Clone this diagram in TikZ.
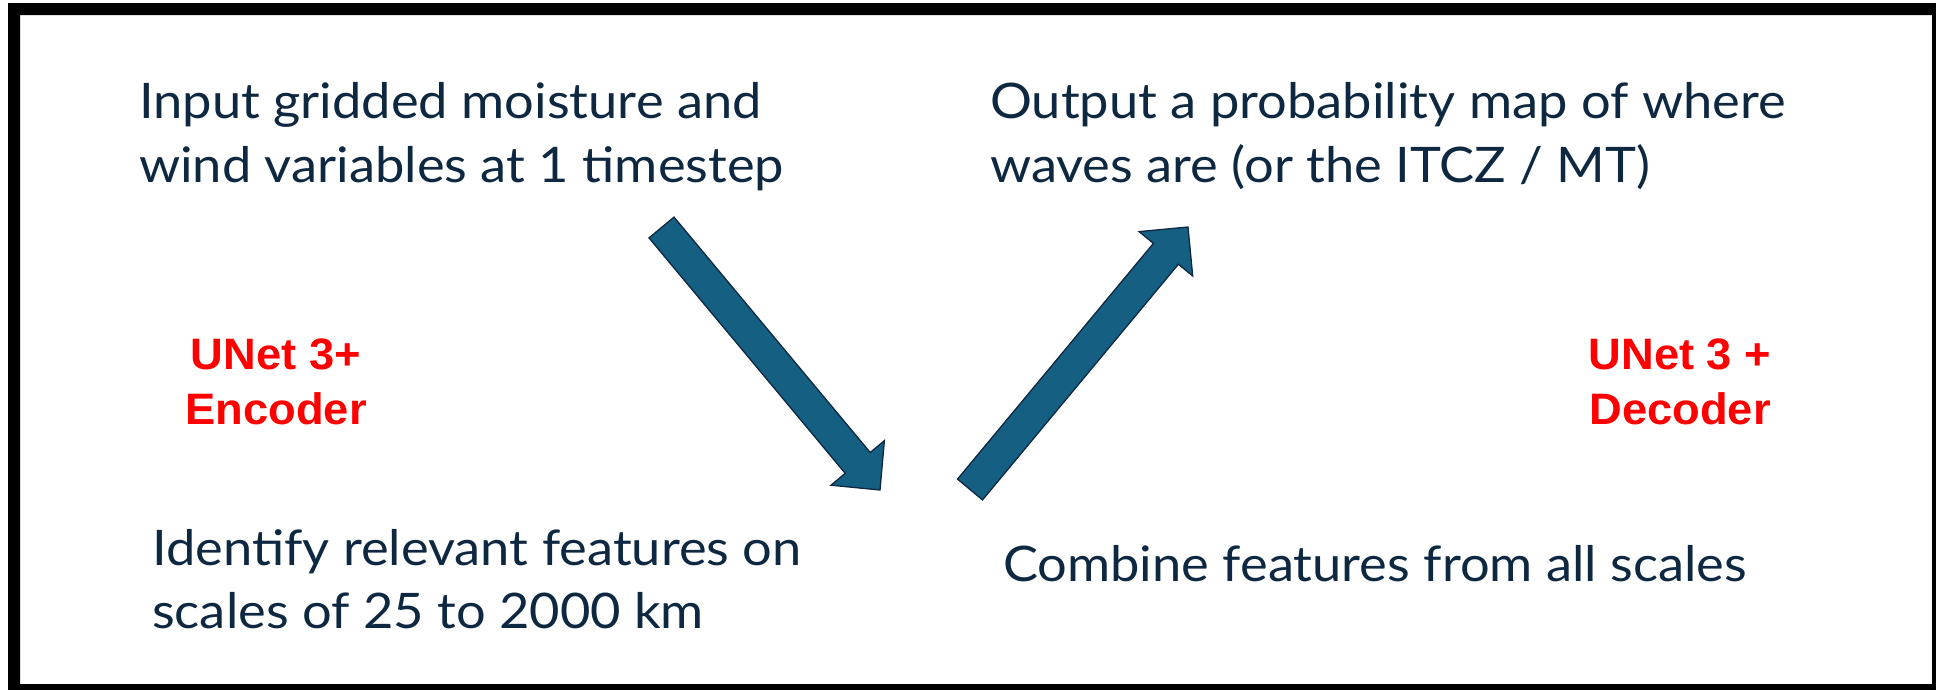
\documentclass[tikz,border=0pt]{standalone}
\usepackage{fontspec}
\newfontfamily\bodyfont[FakeStretch=1.07]{Lato}
\newfontfamily\labelfont[FakeStretch=1.03]{Liberation Sans}
\definecolor{navy}{HTML}{0E2841}
\definecolor{arrowblue}{HTML}{156082}
\definecolor{labred}{HTML}{FF0000}
\tikzset{
  body/.style={anchor=base west, inner sep=0pt, text=navy, font=\bodyfont\fontsize{49}{63}\selectfont},
  redlab/.style={anchor=base, inner sep=0pt, text=labred, font=\labelfont\bfseries\fontsize{44}{55}\selectfont},
  blockarrow/.style={fill=arrowblue, draw=navy, line width=1.3pt, line join=miter}
}
\begin{document}
\begin{tikzpicture}[x=1pt,y=-1pt]
\useasboundingbox (0,0) rectangle (1936,689);
\clip (0,0) rectangle (1936,689);
% frame
\fill[black, even odd rule] (8,3) rectangle (1945,700) (20,15) rectangle (1932,684);
% texts
\node[body] (in1) at (139,118) {Input gridded moisture and};
\node[body] (in2) at (139,182) {wind variables at 1 timestep};
\node[body] (out1) at (990,118) {Output a probability map of where};
\node[body] (out2) at (990,182) {waves are (or the ITCZ / MT)};
\node[body] (id1) at (152,565) {Identify relevant features on};
\node[body] (id2) at (152,628) {scales of 25 to 2000 km};
\node[body] (comb) at (1003,581) {Combine features from all scales};
\node[redlab] (enc1) at (276,369) {UNet 3+};
\node[redlab] (enc2) at (276,424) {Encoder};
\node[redlab] (dec1) at (1680,369) {UNet 3 +};
\node[redlab] (dec2) at (1680,424) {Decoder};
% block arrow down
\coordinate (a1tl) at (649,237.9);
\coordinate (a1tr) at (674,217.1);
\coordinate (a1sr) at (870.2,452.5);
\coordinate (a1hr) at (884.4,440.6);
\coordinate (a1tip) at (880,490);
\coordinate (a1hl) at (831,485.2);
\coordinate (a1sl) at (845.2,473.3);
\draw[blockarrow] (a1tl) -- (a1tr) -- (a1sr) -- (a1hr) -- (a1tip) -- (a1hl) -- (a1sl) -- cycle;
% block arrow up
\coordinate (a2tl) at (957.5,479.1);
\coordinate (a2tr) at (982.5,499.9);
\coordinate (a2sr) at (1178.4,264.2);
\coordinate (a2hr) at (1192.7,276.0);
\coordinate (a2tip) at (1188,227);
\coordinate (a2hl) at (1139.1,231.6);
\coordinate (a2sl) at (1153.4,243.4);
\draw[blockarrow] (a2tl) -- (a2tr) -- (a2sr) -- (a2hr) -- (a2tip) -- (a2hl) -- (a2sl) -- cycle;
\end{tikzpicture}
\end{document}
